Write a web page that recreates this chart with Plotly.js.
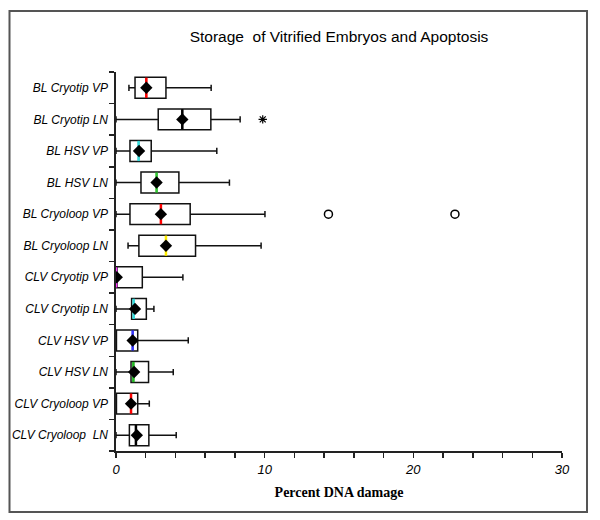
<!DOCTYPE html>
<html>
<head>
<meta charset="utf-8">
<script src="https://cdn.plot.ly/plotly-3.0.1.min.js"></script>
<style>
  html, body { margin: 0; padding: 0; background: #fff; }
  #chart { width: 600px; height: 520px; }
</style>
</head>
<body>
<div id="chart"></div>
<script>
// Categories listed top to bottom
const categories = [
  "BL Cryotip VP", "BL Cryotip LN", "BL HSV VP", "BL HSV LN",
  "BL Cryoloop VP", "BL Cryoloop LN", "CLV Cryotip VP", "CLV Cryotip LN",
  "CLV HSV VP", "CLV HSV LN", "CLV Cryoloop VP", "CLV Cryoloop\u00a0 LN"
];
const lowerWhisker = [0.87, 0.0, 0.0, 0.0, 0.0, 0.81, 0.0, 0.0, 0.0, 0.0, 0.0, 0.0];
const q1Values     = [1.28, 2.84, 0.94, 1.68, 0.94, 1.54, 0.0, 1.05, 0.03, 1.01, 0.03, 0.90];
const medianValues = [2.04, 4.46, 1.52, 2.73, 3.02, 3.36, 0.0, 1.19, 1.12, 1.17, 1.01, 1.34];
const q3Values     = [3.36, 6.38, 2.37, 4.23, 4.99, 5.35, 1.77, 2.04, 1.46, 2.19, 1.46, 2.21];
const upperWhisker = [6.40, 8.35, 6.78, 7.63, 10.02, 9.76, 4.50, 2.55, 4.86, 3.85, 2.24, 4.05];
const meanValues   = [2.04, 4.46, 1.55, 2.73, 3.02, 3.36, 0.05, 1.28, 1.12, 1.22, 1.01, 1.40];
const medianColors = ["#ff0000", "#000000", "#33dddd", "#33cc33", "#ff0000", "#ffee00",
                      "#ff33ff", "#33dddd", "#3333ff", "#22bb22", "#ff0000", "#000000"];
// Outliers: category and value
const outlierCircleCat = ["BL Cryoloop VP", "BL Cryoloop VP"];
const outlierCircleVal = [14.29, 22.80];
const outlierStarCat = ["BL Cryotip LN"];
const outlierStarVal = [9.87];

const n = categories.length;
const pos = categories.map((c, i) => n - 1 - i);
const posOf = c => n - 1 - categories.indexOf(c);

const traces = [
  {
    type: "box",
    orientation: "h",
    y: pos,
    q1: q1Values,
    median: medianValues,
    q3: q3Values,
    lowerfence: lowerWhisker,
    upperfence: upperWhisker,
    width: 0.66,
    whiskerwidth: 0.3,
    fillcolor: "rgba(255,255,255,0)",
    line: { color: "#111", width: 1.5 },
    hoverinfo: "x",
    showlegend: false
  },
  {
    type: "scatter",
    mode: "markers",
    x: medianValues,
    y: pos,
    marker: {
      symbol: "line-ns-open",
      size: 14.5,
      color: medianColors,
      line: { color: medianColors, width: 2.5 }
    },
    showlegend: false
  },
  {
    type: "scatter",
    mode: "markers",
    x: meanValues,
    y: pos,
    yaxis: "y2",
    marker: { symbol: "diamond", size: 9.5, color: "#000" },
    showlegend: false
  },
  {
    type: "scatter",
    mode: "markers",
    x: outlierCircleVal,
    y: outlierCircleCat.map(posOf),
    marker: { symbol: "circle-open", size: 8, color: "#000", line: { width: 1.5 } },
    showlegend: false
  },
  {
    type: "scatter",
    mode: "markers",
    x: outlierStarVal,
    y: outlierStarCat.map(posOf),
    marker: { symbol: "asterisk-open", size: 7, color: "#000", line: { width: 1.2, color: "#000" } },
    showlegend: false
  }
];

const L = 116, R = 562, T = 72, B = 451;
const pw = R - L, ph = B - T;
const boundaries = [];
for (let i = 0; i <= n; i++) boundaries.push(i - 0.5);

const labelFont = { family: "Liberation Sans, Arial, sans-serif", size: 12, color: "#000", style: "italic" };

const layout = {
  width: 600,
  height: 520,
  margin: { l: L, r: 600 - R, t: T, b: 520 - B },
  paper_bgcolor: "#fff",
  plot_bgcolor: "#fff",
  showlegend: false,
  title: {
    text: "Storage\u00a0 of Vitrified Embryos and Apoptosis",
    font: { family: "Liberation Sans, Arial, sans-serif", size: 15.5, color: "#000" },
    x: 0.5, xref: "paper", xanchor: "center",
    y: 1 - 37 / 520, yref: "container", yanchor: "middle"
  },
  xaxis: {
    range: [0, 30],
    showgrid: false,
    zeroline: false,
    showline: true,
    linecolor: "#222",
    linewidth: 2,
    tickmode: "linear",
    tick0: 0,
    dtick: 10,
    ticks: "outside",
    ticklen: 5,
    tickwidth: 1.5,
    tickcolor: "#222",
    minor: { tickmode: "linear", tick0: 0, dtick: 2, ticks: "outside", ticklen: 5, tickwidth: 1.5, tickcolor: "#222", showgrid: false },
    tickfont: { family: "Liberation Sans, Arial, sans-serif", size: 13, color: "#000", style: "italic" },
    title: {
      text: "<b>Percent DNA damage</b>",
      font: { family: "Liberation Serif, Times New Roman, serif", size: 14, color: "#000" },
      standoff: 12
    },
    fixedrange: true
  },
  yaxis: {
    range: [-0.5, n - 0.5],
    showgrid: false,
    zeroline: false,
    showline: true,
    linecolor: "#222",
    linewidth: 2,
    tickmode: "array",
    tickvals: boundaries,
    ticktext: boundaries.map(() => ""),
    ticks: "outside",
    ticklen: 5,
    tickwidth: 1.5,
    tickcolor: "#222",
    fixedrange: true
  },
  yaxis2: {
    overlaying: "y",
    matches: "y",
    side: "left",
    range: [-0.5, n - 0.5],
    showgrid: false,
    zeroline: false,
    showline: false,
    tickmode: "array",
    tickvals: pos,
    ticktext: categories,
    ticks: "",
    ticklabelstandoff: 7,
    tickfont: labelFont,
    fixedrange: true
  },
  shapes: [
    {
      type: "rect", xref: "paper", yref: "paper",
      x0: (9.5 - L) / pw, x1: (587 - L) / pw,
      y0: (B - 512) / ph, y1: (B - 11) / ph,
      line: { color: "#555", width: 2 },
      fillcolor: "rgba(0,0,0,0)"
    }
  ]
};

Plotly.newPlot("chart", traces, layout, { displayModeBar: false, staticPlot: true });
</script>
</body>
</html>
